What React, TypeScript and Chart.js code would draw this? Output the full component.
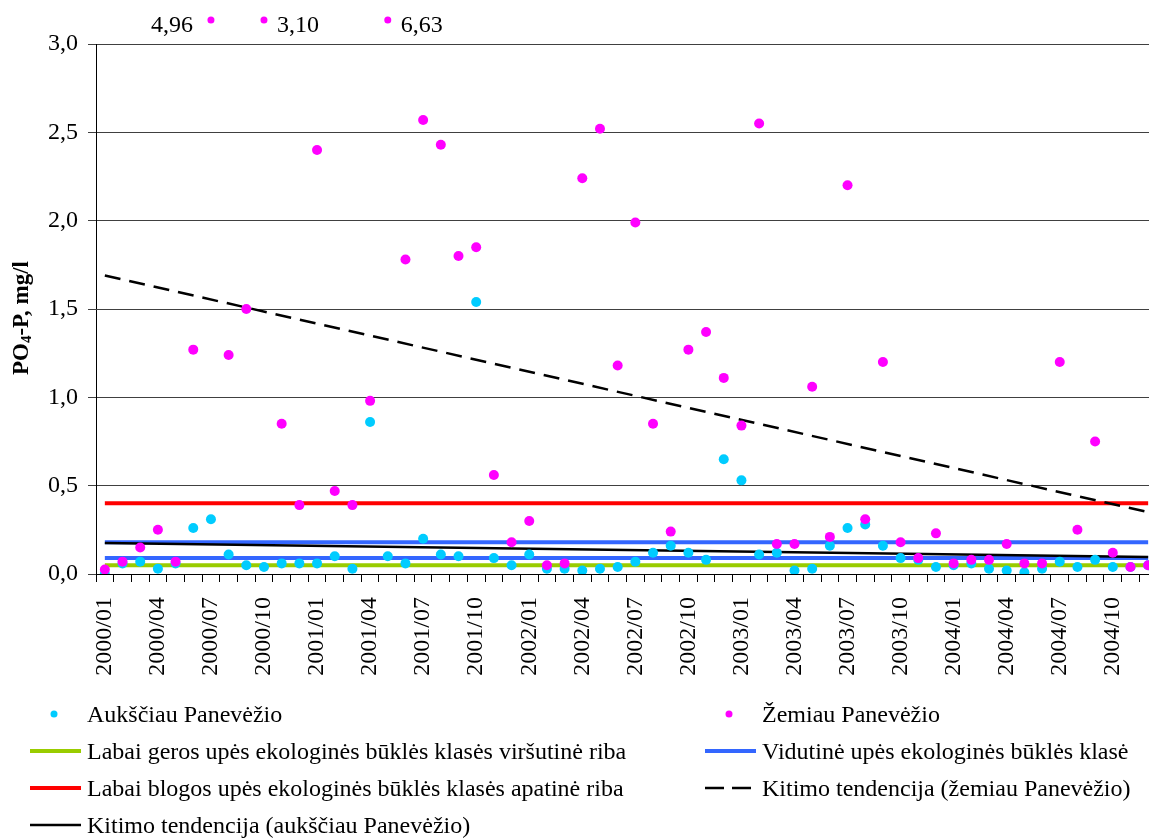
import React, { useEffect, useRef } from 'react';
import { Chart, registerables } from 'chart.js';

Chart.register(...registerables);

// ---- categories (months) ----
const months = [
  '2000/01', '2000/02', '2000/03', '2000/04', '2000/05', '2000/06', '2000/07', '2000/08', '2000/09', '2000/10', '2000/11', '2000/12',
  '2001/01', '2001/02', '2001/03', '2001/04', '2001/05', '2001/06', '2001/07', '2001/08', '2001/09', '2001/10', '2001/11', '2001/12',
  '2002/01', '2002/02', '2002/03', '2002/04', '2002/05', '2002/06', '2002/07', '2002/08', '2002/09', '2002/10', '2002/11', '2002/12',
  '2003/01', '2003/02', '2003/03', '2003/04', '2003/05', '2003/06', '2003/07', '2003/08', '2003/09', '2003/10', '2003/11', '2003/12',
  '2004/01', '2004/02', '2004/03', '2004/04', '2004/05', '2004/06', '2004/07', '2004/08', '2004/09', '2004/10', '2004/11', '2004/12',
];

// ---- series: PO4-P, mg/l ----
const upstream = [
  0.00, 0.06, 0.07, 0.03, 0.06, 0.26, 0.31, 0.11, 0.05, 0.04, 0.06, 0.06,
  0.06, 0.10, 0.03, 0.86, 0.10, 0.06, 0.20, 0.11, 0.10, 1.54, 0.09, 0.05,
  0.11, 0.03, 0.03, 0.02, 0.03, 0.04, 0.07, 0.12, 0.16, 0.12, 0.08, 0.65,
  0.53, 0.11, 0.12, 0.02, 0.03, 0.16, 0.26, 0.28, 0.16, 0.09, 0.08, 0.04,
  0.05, 0.06, 0.03, 0.02, 0.01, 0.03, 0.07, 0.04, 0.08, 0.04, 0.04, 0.05,
];

const downstream = [
  0.025, 0.07, 0.15, 0.25, 0.07, 1.27, 4.96, 1.24, 1.50, 3.10, 0.85, 0.39,
  2.40, 0.47, 0.39, 0.98, 6.63, 1.78, 2.57, 2.43, 1.80, 1.85, 0.56, 0.18,
  0.30, 0.05, 0.06, 2.24, 2.52, 1.18, 1.99, 0.85, 0.24, 1.27, 1.37, 1.11,
  0.84, 2.55, 0.17, 0.17, 1.06, 0.21, 2.20, 0.31, 1.20, 0.18, 0.09, 0.23,
  0.06, 0.08, 0.08, 0.17, 0.06, 0.06, 1.20, 0.25, 0.75, 0.12, 0.04, 0.05,
];

// ---- class limits ----
const veryGoodUpper = 0.05;
const moderateLower = 0.09;
const moderateUpper = 0.18;
const veryBadLower = 0.4;

// ---- trend line end values (first month, last month) ----
const trendDownstream = [1.69, 0.35];
const trendUpstream = [0.175, 0.096];

// ---- y ticks ----
const yMin = 0;
const yMax = 3;
const yStep = 0.5;

const FONT = "'Liberation Serif', 'Times New Roman', serif";
const CYAN = '#00CCFF';
const MAGENTA = '#FF00FF';
const GREEN = '#99CC00';
const BLUE = '#3366FF';
const RED = '#FF0000';

const first = months[0];
const last = months[months.length - 1];
const span = (a: number, b: number) => [
  { x: first, y: a },
  { x: last, y: b },
];

const fmt = (v: number, d = 1) => v.toFixed(d).replace('.', ',');

const legendLayout = [
  { ds: 1, col: 0, row: 0 },
  { ds: 0, col: 1, row: 0 },
  { ds: 7, col: 0, row: 1 },
  { ds: 5, col: 1, row: 1 },
  { ds: 4, col: 0, row: 2 },
  { ds: 2, col: 1, row: 2 },
  { ds: 3, col: 0, row: 3 },
];

export default function App() {
  const ref = useRef<HTMLCanvasElement | null>(null);

  useEffect(() => {
    const canvas = ref.current;
    if (!canvas) return;

    const offScalePlugin = {
      id: 'offScale',
      afterDatasetsDraw(chart: any) {
        const { ctx, scales } = chart;
        const xs = scales.x;
        const ys = scales.y;
        const ds = chart.data.datasets[0];
        let n = 0;
        ctx.save();
        ctx.font = `24px ${FONT}`;
        ctx.fillStyle = '#000';
        ctx.textBaseline = 'alphabetic';
        (ds.data as number[]).forEach((v, i) => {
          if (v > ys.max) {
            const x = xs.getPixelForValue(i);
            const y = 20;
            ctx.fillStyle = MAGENTA;
            ctx.beginPath();
            ctx.arc(x, y, 3.5, 0, Math.PI * 2);
            ctx.fill();
            ctx.fillStyle = '#000';
            if (n === 0) {
              ctx.textAlign = 'right';
              ctx.fillText(fmt(v, 2), x - 18, 32);
            } else {
              ctx.textAlign = 'left';
              ctx.fillText(fmt(v, 2), x + 13, 32);
            }
            n++;
          }
        });
        ctx.restore();
      },
    };

    const yTitlePlugin = {
      id: 'yTitle',
      afterDraw(chart: any) {
        const { ctx } = chart;
        ctx.save();
        ctx.translate(22, 318);
        ctx.rotate(-Math.PI / 2);
        ctx.fillStyle = '#000';
        ctx.textBaseline = 'middle';
        ctx.textAlign = 'left';
        const big = `bold 23px ${FONT}`;
        const small = `bold 15px ${FONT}`;
        const parts = [
          { t: 'PO', f: big, dy: 0 },
          { t: '4', f: small, dy: 5 },
          { t: '-P, mg/l', f: big, dy: 0 },
        ];
        let total = 0;
        parts.forEach((p) => {
          ctx.font = p.f;
          total += ctx.measureText(p.t).width;
        });
        let x = -total / 2;
        parts.forEach((p) => {
          ctx.font = p.f;
          ctx.fillText(p.t, x, p.dy);
          x += ctx.measureText(p.t).width;
        });
        ctx.restore();
      },
    };

    const legendPlugin = {
      id: 'customLegend',
      afterDraw(chart: any) {
        const { ctx } = chart;
        const colSym = [30, 705];
        const colText = [87, 762];
        const rowY = [714, 751, 788, 825];
        ctx.save();
        ctx.font = `24px ${FONT}`;
        ctx.textBaseline = 'middle';
        ctx.textAlign = 'left';
        legendLayout.forEach((item) => {
          const ds: any = chart.data.datasets[item.ds];
          const y = rowY[item.row];
          const sx = colSym[item.col];
          if (ds.showLine === false) {
            ctx.fillStyle = ds.pointBackgroundColor;
            ctx.beginPath();
            ctx.arc(sx + 24, y, 3.5, 0, Math.PI * 2);
            ctx.fill();
          } else {
            ctx.strokeStyle = ds.borderColor;
            ctx.lineWidth = ds.borderWidth;
            ctx.setLineDash(ds.borderDash ? [19, 8] : []);
            ctx.beginPath();
            ctx.moveTo(sx, y);
            ctx.lineTo(sx + 51, y);
            ctx.stroke();
            ctx.setLineDash([]);
          }
          ctx.fillStyle = '#000';
          ctx.fillText(ds.label, colText[item.col], y + 2);
        });
        ctx.restore();
      },
    };

    const pointDs = (label: string, data: number[], color: string, order: number) => ({
      label,
      data,
      showLine: false,
      pointRadius: 5,
      pointHoverRadius: 5,
      pointBorderWidth: 0,
      pointBackgroundColor: color,
      backgroundColor: color,
      borderColor: color,
      order,
    });

    const lineDs = (label: string, data: any[], color: string, width: number, order: number, dash?: number[]) => ({
      label,
      data,
      borderColor: color,
      backgroundColor: color,
      borderWidth: width,
      borderDash: dash,
      pointRadius: 0,
      fill: false,
      tension: 0,
      order,
    });

    const chart = new Chart(canvas, {
      type: 'line',
      data: {
        labels: months,
        datasets: [
          pointDs('Žemiau Panevėžio', downstream, MAGENTA, 0) as any,
          pointDs('Aukščiau Panevėžio', upstream, CYAN, 1) as any,
          lineDs('Kitimo tendencija (žemiau Panevėžio)', span(trendDownstream[0], trendDownstream[1]), '#000', 2.5, 2, [16, 9]) as any,
          lineDs('Kitimo tendencija (aukščiau Panevėžio)', span(trendUpstream[0], trendUpstream[1]), '#000', 2.5, 3) as any,
          lineDs('Labai blogos upės ekologinės būklės klasės apatinė riba', span(veryBadLower, veryBadLower), RED, 4, 4) as any,
          lineDs('Vidutinė upės ekologinės būklės klasė', span(moderateUpper, moderateUpper), BLUE, 4, 5) as any,
          lineDs('Vidutinė upės ekologinės būklės klasė', span(moderateLower, moderateLower), BLUE, 4, 6) as any,
          lineDs('Labai geros upės ekologinės būklės klasės viršutinė riba', span(veryGoodUpper, veryGoodUpper), GREEN, 4, 7) as any,
        ],
      },
      options: {
        responsive: false,
        animation: false,
        events: [],
        layout: { padding: { top: 44, left: 0, right: 0, bottom: 0 } },
        plugins: {
          legend: { display: false },
          tooltip: { enabled: false },
          title: { display: false },
        },
        scales: {
          x: {
            type: 'category',
            offset: true,
            grid: { offset: true, drawOnChartArea: false, tickLength: 8, color: '#000', lineWidth: 1 },
            border: { color: '#000', width: 1 },
            ticks: {
              autoSkip: false,
              minRotation: 90,
              maxRotation: 90,
              padding: 15,
              color: '#000',
              font: { family: FONT, size: 24 },
              callback: (_v: any, i: number) => (i % 3 === 0 ? months[i] : ''),
            },
            afterFit: (s: any) => {
              s.height = 266;
              s.paddingLeft = 0;
              s.paddingRight = 0;
            },
          },
          y: {
            min: yMin,
            max: yMax,
            ticks: {
              stepSize: yStep,
              padding: 10,
              color: '#000',
              font: { family: FONT, size: 24 },
              callback: (v: any) => fmt(Number(v)),
            },
            grid: { color: '#404040', tickLength: 8, lineWidth: 1 },
            border: { color: '#000', width: 1 },
            afterFit: (s: any) => {
              s.width = 96;
              s.paddingTop = 0;
              s.paddingBottom = 0;
            },
          },
        },
      } as any,
      plugins: [offScalePlugin, yTitlePlugin, legendPlugin],
    });

    return () => chart.destroy();
  }, []);

  return (
    <div style={{ position: 'fixed', left: 0, top: 0, width: 1149, height: 840, overflow: 'hidden', background: '#fff' }}>
      <canvas ref={ref} width={1162} height={840} style={{ display: 'block', width: 1162, height: 840 }} />
    </div>
  );
}
